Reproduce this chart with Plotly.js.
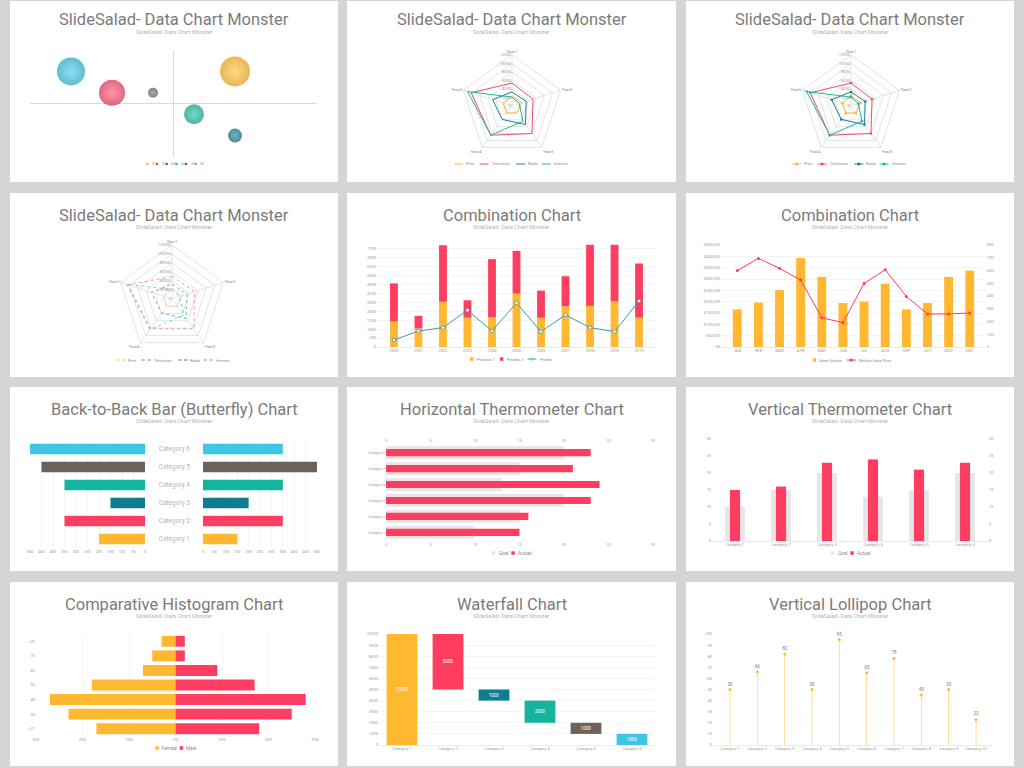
<!DOCTYPE html>
<html><head><meta charset="utf-8">
<script src="https://cdn.plot.ly/plotly-3.0.1.min.js"></script>
<style>html,body{margin:0;padding:0;background:#d5d5d5;}#chart{width:1024px;height:768px;}</style>
</head><body><div id="chart"></div>
<script>
// ---------- DATA ----------
const panelTitles = ['SlideSalad- Data Chart Monster','SlideSalad- Data Chart Monster','SlideSalad- Data Chart Monster','SlideSalad- Data Chart Monster','Combination Chart','Combination Chart','Back-to-Back Bar (Butterfly) Chart','Horizontal Thermometer Chart','Vertical Thermometer Chart','Comparative Histogram Chart','Waterfall Chart','Vertical Lollipop Chart'];
const panelSubtitle = 'SlideSalad- Data Chart Monster';

// Panel 1: bubble
const bubbleNames = ['S1','S2','S3','S4','S5','S6'];
const bubbleX = [1.5, -1.5, 1.5, 0.5, -0.5, -2.5];
const bubbleY = [3, 1, -3, -1, 1, 3];
const bubbleValue = [15, 13, 7, 10, 5, 14];

// Panels 2-4: radar
const radarAxes = ['Year1','Year2','Year3','Year4','Year5'];
const radarSeries = ['Print','Television','Radio','Internet'];
const radarTicks = [0,2000,4000,6000,8000,10000,12000];
const printVals = [2400, 2400, 2000, 2100, 2200];
const televisionVals = [5400, 5200, 8000, 8500, 10100];
const radioVals = [3300, 3500, 5400, 3900, 4800];
const internetVals = [2100, 1800, 4400, 8500, 11000];
const radarTicksBig = [0,20000,40000,60000,80000,100000,120000];
const printValsBig = [24000, 24000, 20000, 21000, 22000];
const televisionValsBig = [50000, 53000, 82000, 82000, 102000];
const radioValsBig = [33000, 35000, 54000, 39000, 48000];
const internetValsBig = [21000, 18000, 44000, 84000, 106000];

// Panel 5: combination (years)
const comboYears = ['2000','2001','2002','2003','2004','2005','2006','2007','2008','2009','2010'];
const product1 = [2000, 1450, 3550, 2300, 2350, 4200, 2300, 3200, 3230, 3600, 2300];
const product2 = [3000, 1000, 4450, 1370, 4550, 3350, 2130, 2360, 4800, 4430, 4260];
const profits = [550, 1260, 1520, 2890, 1260, 3460, 1210, 2520, 1520, 1210, 3620];
const comboSeries = ['Product 1','Produc 2','Profits'];

// Panel 6: combination (months)
const months = ['JAN','FEB','MAR','APR','MAY','JUN','JUL','AUG','SEP','OCT','NOV','DEC'];
const salesVolume = [166000, 196000, 251000, 393000, 309000, 194000, 200000, 279000, 166000, 194000, 309000, 337000];
const medianPrice = [600, 695, 617, 525, 230, 191, 499, 606, 397, 259, 259, 267];
const monthSeries = ['Sales Volume','Median Sales Price'];

// Panel 7: butterfly
const butterflyCats = ['Category 1','Category 2','Category 3','Category 4','Category 5','Category 6'];
const butterflyLeft = [200, 350, 150, 350, 450, 500];
const butterflyRight = [150, 350, 200, 350, 500, 350];

// Panel 8: horizontal thermometer
const hThermoCats = ['Category 1','Category 2','Category 3','Category 4','Category 5','Category 6'];
const hGoal = [10, 15, 20, 13, 15, 20];
const hActual = [15, 16, 23, 24, 21, 23];

// Panel 9: vertical thermometer
const vThermoCats = ['Category 1','Category 2','Category 3','Category 4','Category 5','Category 6'];
const vGoal = [10, 15, 20, 13, 15, 20];
const vActual = [15, 16, 23, 24, 21, 23];
const thermoSeries = ['Goal','Actual'];

// Panel 10: comparative histogram
const ageGroups = ['<21','30','40','50','60','70','>70'];
const female = [17, 23, 27, 18, 7, 5, 3];
const male = [18, 25, 28, 17, 9, 2, 2];
const histTickVals = [-30,-20,-10,0,10,20,30];
const histTickText = ['30%','20%','10%','0%','10%','20%','30%'];
const histSeries = ['Female','Male'];

// Panel 11: waterfall
const wfCats = ['Category 1','Category 2','Category 3','Category 4','Category 5','Category 6'];
const wfValues = [10000, 5000, 1000, 2000, 1000, 1000];

// Panel 12: lollipop
const lolliCats = ['Category 1','Category 2','Category 3','Category 4','Category 5','Category 6','Category 7','Category 8','Category 9','Category 10'];
const lolliVals = [50, 66, 82, 50, 95, 65, 78, 45, 50, 23];

// ---------- STYLE / GEOMETRY ----------
const W = 1024, H = 768;
const X = p => p / W, Y = p => 1 - p / H;
const DX = (a, b) => [a / W, b / W];
const DY = (t, b) => [1 - b / H, 1 - t / H];
const YEL = '#FFB830', PINK = '#FF3D60', DTEAL = '#0E7C91', TEAL = '#14B59E', CYAN = '#3EC6E2', BROWN = '#6E625B', GOALC = '#E6E6E6';
const catColors = [YEL, PINK, DTEAL, TEAL, BROWN, CYAN];
const bubbleEdge = ['#E29610', '#D42649', '#09596A', '#0C907E', '#554A44', '#1C9FC0'];
const bubbleCore = ['#FFC94A', '#FF6A88', '#2596AB', '#2ECBB2', '#8A7F79', '#5CD2EC'];
const FONT = 'Roboto, sans-serif';
const TF = {family: FONT, size: 4, color: '#9b9b9b'};
const GRID = '#ededed';
const panels = [
  [10,1,338,182],[347,1,676,182],[686,1,1014,182],
  [10,193,338,377],[347,193,676,377],[686,193,1014,377],
  [10,387,338,571],[347,387,676,571],[686,387,1014,571],
  [10,582,338,766],[347,582,676,766],[686,582,1014,766]];

const shapes = [], annotations = [];
panels.forEach((p, i) => {
  shapes.push({type:'rect', xref:'paper', yref:'paper', layer:'below', x0:X(p[0]), x1:X(p[2]), y0:Y(p[3]), y1:Y(p[1]), fillcolor:'#ffffff', line:{width:0}});
  const cx = (p[0] + p[2]) / 2;
  const ty = i < 3 ? 20 : p[1] + 22;
  const sy = i < 3 ? 32 : p[1] + 34;
  annotations.push({xref:'paper', yref:'paper', x:X(cx), y:Y(ty), xanchor:'center', yanchor:'middle', showarrow:false, text:panelTitles[i], font:{family:FONT, size:16.5, color:'#7b7b7b'}});
  annotations.push({xref:'paper', yref:'paper', x:X(cx), y:Y(sy), xanchor:'center', yanchor:'middle', showarrow:false, text:panelSubtitle, font:{family:FONT, size:5.5, color:'#b3b3b3'}});
});

function legend(items, cx, cy, fs, gap) {
  const symW = {rect:3.5, line:9, linemarker:9, dash:9, dot:2.6};
  gap = gap || 4;
  const widths = items.map(it => symW[it.kind] + 1.2 + it.name.length * fs * 0.56);
  const total = widths.reduce((a, b) => a + b, 0) + gap * (items.length - 1);
  let x = cx - total / 2;
  items.forEach((it, i) => {
    const k = it.kind;
    if (k === 'rect') {
      shapes.push({type:'rect', xref:'paper', yref:'paper', x0:X(x), x1:X(x+3.5), y0:Y(cy+1.75), y1:Y(cy-1.75), fillcolor:it.color, line:{width:0}});
    } else if (k === 'dot') {
      shapes.push({type:'circle', xref:'paper', yref:'paper', x0:X(x), x1:X(x+2.6), y0:Y(cy+1.3), y1:Y(cy-1.3), fillcolor:it.color, line:{width:0}});
    } else {
      shapes.push({type:'line', xref:'paper', yref:'paper', x0:X(x), x1:X(x+9), y0:Y(cy), y1:Y(cy), line:{color:it.color, width:1, dash: k === 'dash' ? 'dot' : 'solid'}});
      if (k === 'linemarker') shapes.push({type:'circle', xref:'paper', yref:'paper', x0:X(x+3.3), x1:X(x+5.7), y0:Y(cy+1.2), y1:Y(cy-1.2), fillcolor:it.fill || it.color, line:{color:it.color, width:0.7}});
    }
    annotations.push({xref:'paper', yref:'paper', x:X(x + symW[k] + 1.2), y:Y(cy), xanchor:'left', yanchor:'middle', showarrow:false, text:it.name, font:{family:FONT, size:fs, color:'#8a8a8a'}});
    x += widths[i] + gap;
  });
}

legend(bubbleNames.map((n, i) => ({name:n, color:catColors[i], kind:'dot'})), 174, 164, 3.3, 2.2);
const radarColors = [YEL, '#E8506A', '#1A7F92', '#1DB7A7'];
legend(radarSeries.map((n, i) => ({name:n, color:radarColors[i], kind:'line'})), 512, 164, 4);
legend(radarSeries.map((n, i) => ({name:n, color:radarColors[i], kind:'linemarker'})), 850, 164, 4);
legend(radarSeries.map((n, i) => ({name:n, color:radarColors[i], kind:'dash'})), 174, 360, 4);
legend([{name:comboSeries[0], color:YEL, kind:'rect'},{name:comboSeries[1], color:PINK, kind:'rect'},{name:comboSeries[2], color:'#3a9db0', fill:'#ffffff', kind:'linemarker'}], 512, 359, 4.2);
legend([{name:monthSeries[0], color:YEL, kind:'rect'},{name:monthSeries[1], color:PINK, kind:'linemarker'}], 854, 360, 3.8);
legend([{name:thermoSeries[0], color:GOALC, kind:'rect'},{name:thermoSeries[1], color:PINK, kind:'rect'}], 512, 553, 4.8);
legend([{name:thermoSeries[0], color:GOALC, kind:'rect'},{name:thermoSeries[1], color:PINK, kind:'rect'}], 851, 553, 4.8);
legend([{name:histSeries[0], color:YEL, kind:'rect'},{name:histSeries[1], color:PINK, kind:'rect'}], 175, 748, 4.6);

function ax(domain, anchor, extra) {
  return Object.assign({domain, anchor, showgrid:false, zeroline:false, showline:false, ticks:'', tickfont:TF, fixedrange:true, automargin:false}, extra || {});
}
function polar(cx, cy, r, rmax, ticks) {
  return {domain:{x:DX(cx - r, cx + r), y:DY(cy - r, cy + r)}, bgcolor:'rgba(0,0,0,0)', gridshape:'linear',
    angularaxis:{rotation:90, direction:'clockwise', tickfont:{family:FONT, size:4.2, color:'#8a8a8a'}, linecolor:'#e3e3e3', gridcolor:'#e3e3e3', ticks:'', showline:true},
    radialaxis:{range:[0, rmax], tickvals:ticks, tickformat:'d', angle:90, tickangle:90, side:'counterclockwise', showline:false, gridcolor:'#e3e3e3', ticks:'', tickfont:{family:FONT, size:4, color:'#9b9b9b'}}};
}

// ---------- TRACES ----------
const traces = [];
traces.push({type:'scatter', mode:'markers', x:bubbleX, y:bubbleY, xaxis:'x', yaxis:'y', hoverinfo:'skip',
  marker:{size:bubbleValue, sizemode:'diameter', sizeref:0.5, color:bubbleEdge, gradient:{type:'radial', color:bubbleCore}, line:{width:0}}});

const close = a => a.concat([a[0]]);
const theta = close(radarAxes);
const radarSets = [printVals, televisionVals, radioVals, internetVals];
const radarSetsBig = [printValsBig, televisionValsBig, radioValsBig, internetValsBig];
radarSets.forEach((v, i) => traces.push({type:'scatterpolar', subplot:'polar', r:close(v), theta, mode:'lines', name:radarSeries[i], line:{color:radarColors[i], width:1}, hoverinfo:'skip'}));
radarSets.forEach((v, i) => traces.push({type:'scatterpolar', subplot:'polar2', r:close(v), theta, mode:'lines+markers', name:radarSeries[i], line:{color:radarColors[i], width:1}, marker:{size:2.5, color:radarColors[i]}, hoverinfo:'skip'}));
radarSetsBig.forEach((v, i) => traces.push({type:'scatterpolar', subplot:'polar3', r:close(v), theta, mode:'lines', name:radarSeries[i], opacity:0.75, line:{color:radarColors[i], width:0.8, dash:'dot'}, hoverinfo:'skip'}));

// Panel 5
traces.push({type:'bar', x:comboYears, y:product1, xaxis:'x2', yaxis:'y2', width:0.32, marker:{color:YEL}, hoverinfo:'skip'});
traces.push({type:'bar', x:comboYears, y:product2, base:product1, xaxis:'x2', yaxis:'y2', width:0.32, marker:{color:PINK}, hoverinfo:'skip'});
traces.push({type:'scatter', mode:'lines+markers', x:comboYears, y:profits, xaxis:'x2', yaxis:'y2', line:{color:'#3a9db0', width:1}, marker:{size:3.5, color:'#ffffff', line:{color:'#3a9db0', width:0.8}}, hoverinfo:'skip'});

// Panel 6
traces.push({type:'bar', x:months, y:salesVolume, xaxis:'x3', yaxis:'y3', width:0.42, marker:{color:YEL}, hoverinfo:'skip'});
traces.push({type:'scatter', mode:'lines+markers', x:months, y:medianPrice, xaxis:'x3', yaxis:'y4', line:{color:PINK, width:1}, marker:{size:3, color:PINK}, hoverinfo:'skip'});

// Panel 7
traces.push({type:'bar', orientation:'h', x:butterflyLeft, y:butterflyCats, xaxis:'x5', yaxis:'y5', width:0.58, marker:{color:catColors}, hoverinfo:'skip'});
traces.push({type:'bar', orientation:'h', x:butterflyRight, y:butterflyCats, xaxis:'x6', yaxis:'y6', width:0.58, marker:{color:catColors}, hoverinfo:'skip'});

// Panel 8
traces.push({type:'bar', orientation:'h', x:hGoal, y:hThermoCats, xaxis:'x7', yaxis:'y7', width:0.8, marker:{color:GOALC}, hoverinfo:'skip'});
traces.push({type:'bar', orientation:'h', x:hActual, y:hThermoCats, xaxis:'x7', yaxis:'y7', width:0.45, marker:{color:PINK}, hoverinfo:'skip'});
traces.push({type:'scatter', mode:'markers', x:hActual, y:hThermoCats, xaxis:'x8', yaxis:'y7', marker:{opacity:0}, hoverinfo:'skip'});

// Panel 9
traces.push({type:'bar', x:vThermoCats, y:vGoal, xaxis:'x9', yaxis:'y9', width:0.43, marker:{color:GOALC}, hoverinfo:'skip'});
traces.push({type:'bar', x:vThermoCats, y:vActual, xaxis:'x9', yaxis:'y9', width:0.22, marker:{color:PINK}, hoverinfo:'skip'});
traces.push({type:'scatter', mode:'markers', x:vThermoCats, y:vActual, xaxis:'x9', yaxis:'y10', marker:{opacity:0}, hoverinfo:'skip'});

// Panel 10
traces.push({type:'bar', orientation:'h', x:female.map(v => -v), y:ageGroups, xaxis:'x11', yaxis:'y11', width:0.75, marker:{color:YEL}, hoverinfo:'skip'});
traces.push({type:'bar', orientation:'h', x:male, y:ageGroups, xaxis:'x11', yaxis:'y11', width:0.75, marker:{color:PINK}, hoverinfo:'skip'});

// Panel 11
let running = 0;
const wfBase = wfValues.map((v, i) => { if (i === 0) { running = v; return 0; } running -= v; return running; });
traces.push({type:'bar', x:wfCats, y:wfValues, base:wfBase, xaxis:'x12', yaxis:'y12', width:0.67, marker:{color:catColors},
  text:wfValues.map(String), textposition:'inside', insidetextanchor:'middle', textangle:0, textfont:{family:FONT, size:4.5, color:'#ffffff'}, hoverinfo:'skip'});

// Panel 12
traces.push({type:'bar', x:lolliCats, y:lolliVals, xaxis:'x13', yaxis:'y13', width:0.035, marker:{color:'#FFDC95'}, hoverinfo:'skip'});
traces.push({type:'scatter', mode:'markers+text', x:lolliCats, y:lolliVals, xaxis:'x13', yaxis:'y13', text:lolliVals.map(String), textposition:'top center', textfont:{family:FONT, size:4.5, color:'#7d7d7d'}, marker:{size:3, color:YEL}, hoverinfo:'skip', cliponaxis:false});

// ---------- LAYOUT ----------
const layout = {
  width:W, height:H, margin:{l:0, r:0, t:0, b:0, pad:0}, paper_bgcolor:'#d5d5d5', plot_bgcolor:'rgba(0,0,0,0)',
  showlegend:false, barmode:'overlay', hovermode:false, font:{family:FONT}, shapes, annotations,
  xaxis: ax(DX(30,317), 'y', {range:[-3.5,3.5], zeroline:true, zerolinecolor:'#d9d9d9', zerolinewidth:1, showticklabels:false}),
  yaxis: ax(DY(50,157), 'x', {range:[-5,5], zeroline:true, zerolinecolor:'#d9d9d9', zerolinewidth:1, showticklabels:false}),
  polar: polar(512, 106, 51, 12000, radarTicks),
  polar2: polar(851, 106, 51, 12000, radarTicks),
  polar3: polar(172, 299, 54, 120000, radarTicksBig),
  xaxis2: ax(DX(377,656), 'y2', {type:'category', showline:true, linecolor:'#dcdcdc', linewidth:0.6}),
  yaxis2: ax(DY(243,347), 'x2', {range:[0,8170], dtick:700, tickformat:'d', showgrid:true, gridcolor:GRID, gridwidth:0.6}),
  xaxis3: ax(DX(721,986), 'y3', {type:'category', showline:true, linecolor:'#dcdcdc', linewidth:0.6}),
  yaxis3: ax(DY(245,347), 'x3', {range:[0,450000], dtick:50000, tickformat:',d', tickprefix:'$', showgrid:true, gridcolor:GRID, gridwidth:0.6}),
  yaxis4: ax(DY(245,347), 'x3', {overlaying:'y3', side:'right', range:[0,800], dtick:100, tickformat:'d'}),
  xaxis5: ax(DX(30,145), 'y5', {range:[500,0], dtick:50, showgrid:true, gridcolor:GRID, gridwidth:0.6}),
  yaxis5: ax(DY(440,548), 'x5', {type:'category', showticklabels:false}),
  xaxis6: ax(DX(203,317), 'y6', {range:[0,500], dtick:50, showgrid:true, gridcolor:GRID, gridwidth:0.6}),
  yaxis6: ax(DY(440,548), 'x6', {type:'category', tickfont:{family:FONT, size:6.5, color:'#b5b5b5'}, ticklabelstandoff:12}),
  xaxis7: ax(DX(386,653), 'y7', {range:[0,30], dtick:5}),
  xaxis8: ax(DX(386,653), 'y7', {range:[0,30], dtick:5, overlaying:'x7', side:'top'}),
  yaxis7: ax(DY(444,541), 'x7', {type:'category', tickfont:{family:FONT, size:3.5, color:'#9b9b9b'}}),
  xaxis9: ax(DX(712,988), 'y9', {type:'category', showline:true, linecolor:'#dcdcdc', linewidth:0.6}),
  yaxis9: ax(DY(439,541), 'x9', {range:[0,30], dtick:5}),
  yaxis10: ax(DY(439,541), 'x9', {range:[0,30], dtick:5, overlaying:'y9', side:'right'}),
  xaxis11: ax(DX(36,315), 'y11', {range:[-30,30], tickvals:histTickVals, ticktext:histTickText, showgrid:true, gridcolor:GRID, gridwidth:0.6}),
  yaxis11: ax(DY(634,736), 'x11', {type:'category'}),
  xaxis12: ax(DX(379,655), 'y12', {type:'category', showline:true, linecolor:'#dcdcdc', linewidth:0.6}),
  yaxis12: ax(DY(634,745), 'x12', {range:[0,10000], dtick:1000, tickformat:'d', showgrid:true, gridcolor:GRID, gridwidth:0.6}),
  xaxis13: ax(DX(713,993), 'y13', {type:'category', showline:true, linecolor:'#dcdcdc', linewidth:0.6}),
  yaxis13: ax(DY(634,745), 'x13', {range:[0,100], dtick:10, tickformat:'d'})
};

Plotly.newPlot('chart', traces, layout, {staticPlot:true, displayModeBar:false});
</script></body></html>
